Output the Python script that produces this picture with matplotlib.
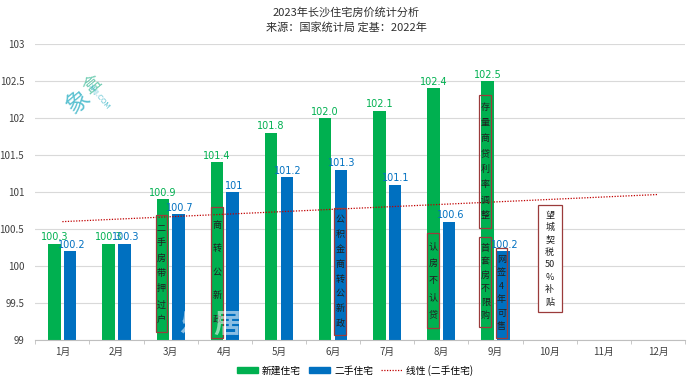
import matplotlib
matplotlib.use("Agg")
import matplotlib.pyplot as plt
from matplotlib.patches import Rectangle, Patch
from matplotlib.lines import Line2D
import numpy as np

plt.rcParams['font.family'] = ['Noto Sans CJK SC', 'DejaVu Sans']

# data
months = ['1月', '2月', '3月', '4月', '5月', '6月', '7月', '8月', '9月', '10月', '11月', '12月']
new_homes = [100.3, 100.3, 100.9, 101.4, 101.8, 102.0, 102.1, 102.4, 102.5]
resale = [100.2, 100.3, 100.7, 101, 101.2, 101.3, 101.1, 100.6, 100.2]
new_labels = ['100.3', '100.3', '100.9', '101.4', '101.8', '102.0', '102.1', '102.4', '102.5']
resale_labels = ['100.2', '100.3', '100.7', '101', '101.2', '101.3', '101.1', '100.6', '100.2']

# policy notes: (lines of vertical text, x centre, y bottom, y top, width, fill)
notes = [
    (list('二手房带押过户'), 1.83, 99.11, 100.69, 0.22, 'none'),
    (list('商转公新政'), 2.85, 99.03, 100.80, 0.22, 'none'),
    (list('公积金商转公新政'), 5.13, 99.07, 100.78, 0.22, 'none'),
    (list('认房不认贷'), 6.84, 99.16, 100.45, 0.22, 'none'),
    (list('存量商贷利率调整'), 7.81, 100.51, 102.31, 0.22, 'none'),
    (list('首套房不限购'), 7.81, 99.18, 100.39, 0.22, 'none'),
    (list('网签4年可售'), 8.11, 99.03, 100.24, 0.22, 'none'),
    (['望', '城', '契', '税', '50', '%', '补', '贴'], 9.0, 99.38, 100.82, 0.44, 'white'),
]

GREEN = '#00B050'
BLUE = '#0070C0'
RED = '#C00000'
BOX = '#9B3B3B'

fig = plt.figure(figsize=(6.92, 3.86), dpi=100)
ax = fig.add_axes([0.051, 0.119, 0.939, 0.767])

x = np.arange(len(months))
xd = np.arange(len(new_homes))
w = 0.23
off = 0.145
ax.bar(xd - off, np.array(new_homes) - 99, w, bottom=99, color=GREEN, zorder=2)
ax.bar(xd + off, np.array(resale) - 99, w, bottom=99, color=BLUE, zorder=2)

for i in xd:
    ax.text(i - off, new_homes[i] + 0.02, new_labels[i], color=GREEN, fontsize=7,
            ha='center', va='bottom', family='DejaVu Sans', zorder=4)
    ax.text(i + off + 0.02, resale[i] + 0.02, resale_labels[i], color=BLUE, fontsize=7,
            ha='center', va='bottom', family='DejaVu Sans', zorder=4)

# linear trendline of resale index, drawn across all 12 months
k, b = np.polyfit(xd, resale, 1)
ax.plot(x, k * x + b, color=RED, lw=0.9, ls=(0, (1, 1.2)), zorder=3)

for lines, xc, y0, y1, bw, fc in notes:
    ax.add_patch(Rectangle((xc - bw / 2, y0), bw, y1 - y0, facecolor=fc,
                           edgecolor=BOX, lw=0.9, zorder=5))
    step = (y1 - y0) / (len(lines) + 0.6)
    for j, c in enumerate(lines):
        ax.text(xc, y1 - step * (j + 0.8), c, fontsize=6.5, ha='center', va='center',
                color='#202020', zorder=6)

# watermarks
fig.text(0.113, 0.736, '象', fontsize=17, color='#3FB7C9', rotation=40, alpha=0.85,
         ha='center', va='center')
fig.text(0.134, 0.78, '盒', fontsize=13, color='#5CC6A8', rotation=40, alpha=0.85,
         ha='center', va='center')
fig.text(0.143, 0.749, 'XHJ.COM', fontsize=5, color='#3FB7C9', rotation=-50, alpha=0.85,
         ha='center', va='center', family='DejaVu Sans')
ax.text(2.75, 99.2, '乐 居', fontsize=20, color='white', alpha=0.55, ha='center',
        va='center', zorder=7, fontweight='bold')

ax.set_xlim(-0.5, 11.5)
ax.set_ylim(99, 103)
ax.set_xticks(x)
ax.set_xticklabels(months, fontsize=7, color='#404040')
ax.set_xticks(np.arange(-0.5, 12, 1), minor=True)
ax.tick_params(axis='x', which='major', length=0, pad=5)
ax.tick_params(axis='x', which='minor', length=3, color='#BFBFBF')
ax.set_yticks(np.arange(99, 103.01, 0.5))
ax.set_yticklabels(['%g' % v for v in np.arange(99, 103.01, 0.5)], fontsize=7, color='#404040')
ax.tick_params(axis='y', length=0, pad=8)
ax.grid(axis='y', color='#D9D9D9', lw=0.8, zorder=0)
for s in ['top', 'right', 'left']:
    ax.spines[s].set_visible(False)
ax.spines['bottom'].set_color('#BFBFBF')

fig.text(0.5, 0.968, '2023年长沙住宅房价统计分析', fontsize=8, ha='center', va='center', color='#303030')
fig.text(0.5, 0.93, '来源：国家统计局 定基：2022年', fontsize=8, ha='center', va='center', color='#303030')

handles = [Patch(color=GREEN), Patch(color=BLUE),
           Line2D([], [], color=RED, lw=0.9, ls=(0, (1, 1.2)))]
fig.legend(handles, ['新建住宅', '二手住宅', '线性 (二手住宅)'], loc='center',
           bbox_to_anchor=(0.513, 0.041), ncol=3, frameon=False, fontsize=7,
           handlelength=2.2, handleheight=0.6, columnspacing=0.8, handletextpad=0.4)

fig.savefig('out.png', dpi=100)
